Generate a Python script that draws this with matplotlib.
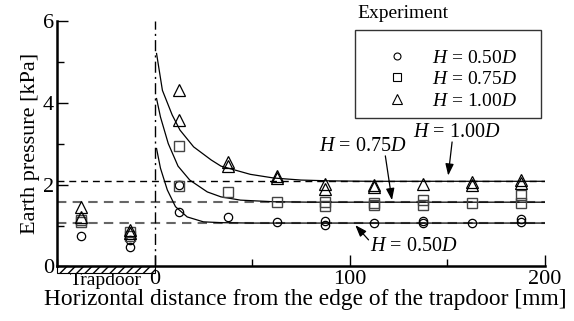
import matplotlib.pyplot as plt
from matplotlib.lines import Line2D
from matplotlib.patches import Rectangle
from matplotlib.ticker import MultipleLocator

plt.rcParams['font.family'] = 'Liberation Serif'
plt.rcParams['mathtext.fontset'] = 'custom'
plt.rcParams['mathtext.rm'] = 'Liberation Serif'
plt.rcParams['mathtext.it'] = 'Liberation Serif:italic'

# measured earth pressure (kPa) at each gauge position (mm)
x_050 = [-37.5, -12.5, -12.5, 12.5, 12.5, 37.5, 62.5, 87.5, 87.5, 112.5, 137.5, 137.5, 162.5, 187.5, 187.5]
p_050 = [0.75, 0.64, 0.47, 1.98, 1.33, 1.22, 1.08, 1.10, 1.02, 1.07, 1.10, 1.05, 1.05, 1.15, 1.08]

x_075 = [-37.5, -37.5, -12.5, -12.5, 12.5, 12.5, 37.5, 62.5, 87.5, 87.5, 112.5, 112.5, 137.5, 137.5, 162.5, 187.5, 187.5]
p_075 = [1.13, 1.08, 0.85, 0.75, 2.95, 1.97, 1.82, 1.57, 1.58, 1.47, 1.56, 1.50, 1.62, 1.50, 1.56, 1.74, 1.55]

x_100 = [-37.5, -37.5, -12.5, -12.5, 12.5, 12.5, 37.5, 37.5, 62.5, 62.5, 87.5, 87.5, 112.5, 112.5, 137.5, 162.5, 162.5, 187.5, 187.5]
p_100 = [1.45, 1.20, 0.90, 0.82, 4.32, 3.57, 2.55, 2.45, 2.22, 2.16, 2.02, 1.88, 2.00, 1.95, 2.02, 2.06, 2.00, 2.12, 2.04]

# calculated distribution next to the trapdoor
cx_050 = [1, 3, 6.5, 10.7, 16.7, 25, 34, 50, 200]
cp_050 = [2.88, 2.40, 1.87, 1.46, 1.21, 1.09, 1.07, 1.06, 1.06]
cx_075 = [1, 3, 7, 12, 18, 27, 34, 44, 61, 80, 100, 200]
cp_075 = [4.10, 3.65, 3.00, 2.45, 2.11, 1.82, 1.70, 1.62, 1.58, 1.57, 1.57, 1.57]
cx_100 = [1, 4, 9, 13, 20, 29, 34, 49, 61, 75, 90, 110, 200]
cp_100 = [5.20, 4.30, 3.70, 3.33, 2.92, 2.60, 2.45, 2.25, 2.16, 2.11, 2.09, 2.08, 2.08]

# initial (at-rest) pressure levels
p0_050 = 1.06
p0_075 = 1.57
p0_100 = 2.08

labels = ['$H$ = 0.50$D$', '$H$ = 0.75$D$', '$H$ = 1.00$D$']

fig = plt.figure(figsize=(5.74, 3.21), dpi=100)
ax = fig.add_axes([0.0993, 0.1698, 0.8502, 0.7657])

ax.axhline(p0_100, color='black', lw=1.0, ls=(0, (5, 3.5)), zorder=1)
ax.axhline(p0_075, color='#666666', lw=1.5, ls=(0, (4.5, 3)), zorder=1)
ax.axhline(p0_050, color='#666666', lw=1.5, ls=(0, (4.5, 3)), zorder=1)
ax.plot([0, 0], [0, 6], color='black', lw=1.0, ls=(0, (8, 3, 1.5, 3)), zorder=1)

ax.plot(cx_100, cp_100, color='black', lw=0.9, zorder=2)
ax.plot(cx_075, cp_075, color='black', lw=0.9, zorder=2)
ax.plot(cx_050, cp_050, color='black', lw=0.9, zorder=2)

ax.plot(x_050, p_050, ls='none', marker='o', ms=6, mfc='none', mec='black', mew=0.9, zorder=3)
ax.plot(x_075, p_075, ls='none', marker='s', ms=6.5, mfc='none', mec='#444444', mew=1.0, zorder=3)
ax.plot(x_100, p_100, ls='none', marker='^', ms=8, mfc='none', mec='black', mew=0.9, zorder=3)

# trapdoor below the axis
ax.add_patch(Rectangle((-50, -0.15), 50, 0.15, facecolor='white', edgecolor='black',
                       hatch='////', lw=0.8, clip_on=False, zorder=4))

ax.set_xlim(-50, 200)
ax.set_ylim(0, 6)
ax.spines['top'].set_visible(False)
ax.spines['right'].set_visible(False)
ax.spines['left'].set_linewidth(1.8)
ax.spines['bottom'].set_linewidth(1.8)
ax.spines['left'].set_zorder(5)
ax.spines['bottom'].set_zorder(5)

ax.set_xticks([0, 100, 200])
ax.xaxis.set_minor_locator(MultipleLocator(50))
ax.yaxis.set_major_locator(MultipleLocator(2))
ax.yaxis.set_minor_locator(MultipleLocator(1))
ax.tick_params(which='both', direction='in', width=1.0, labelsize=16)
ax.tick_params(which='major', length=8)
ax.tick_params(which='minor', length=5)
ax.tick_params(axis='x', which='major', pad=2.8)
ax.tick_params(axis='y', which='major', pad=2)

ax.text(-25, -0.46, 'Trapdoor', ha='center', va='baseline', fontsize=14)
ax.set_xlabel('Horizontal distance from the edge of the trapdoor [mm]', fontsize=16.8, labelpad=-0.5)
ax.xaxis.label.set_x(0.508)
ax.set_ylabel('Earth pressure [kPa]', fontsize=16, labelpad=2)

# labels of the calculated curves, each with its own pointer
arrow = dict(arrowstyle='-|>,head_length=0.5,head_width=0.18', color='black', lw=0.9,
             mutation_scale=14, shrinkA=0, shrinkB=0)
ax.text(155, 3.28, labels[2], ha='center', va='center', fontsize=14.5)
ax.annotate('', xy=(150.4, 2.22), xytext=(152.4, 3.04), arrowprops=arrow)
ax.text(106.6, 2.94, labels[1], ha='center', va='center', fontsize=14.5)
ax.annotate('', xy=(121.6, 1.62), xytext=(118.2, 2.70), arrowprops=arrow)
ax.text(132.7, 0.49, labels[0], ha='center', va='center', fontsize=14.5)
ax.annotate('', xy=(102.8, 1.01), xytext=(109.6, 0.65), arrowprops=arrow)

handles = [
    Line2D([], [], ls='none', marker='o', ms=5, mfc='none', mec='black', mew=0.8),
    Line2D([], [], ls='none', marker='s', ms=5.5, mfc='none', mec='black', mew=0.8),
    Line2D([], [], ls='none', marker='^', ms=6.5, mfc='none', mec='black', mew=0.8),
]
leg = ax.legend(handles, labels, loc='upper left', bbox_to_anchor=(0.657, 0.885),
                borderaxespad=0, borderpad=0, fontsize=14, frameon=False,
                handlelength=2.0, handletextpad=0.8, labelspacing=0.2)
ax.add_patch(Rectangle((0.611, 0.604), 0.381, 0.358, transform=ax.transAxes, fill=False,
                       edgecolor='#333333', lw=1.0, clip_on=False, zorder=6))
ax.text(0.615, 1.0098, 'Experiment', transform=ax.transAxes, ha='left', va='baseline', fontsize=14)

fig.savefig('out.png', dpi=100)
